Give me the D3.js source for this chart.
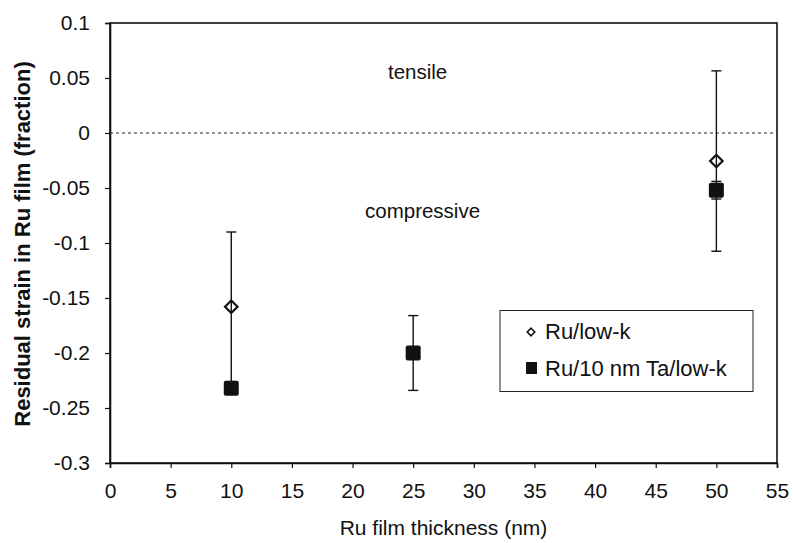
<!DOCTYPE html>
<html>
<head>
<meta charset="utf-8">
<script src="https://cdn.jsdelivr.net/npm/d3@7"></script>
<style>
  body { margin: 0; background: #fff; }
  text { font-family: Arial, "Liberation Sans", sans-serif; fill: #111; }
</style>
</head>
<body>
<svg id="chart" width="793" height="543"></svg>
<script>
// x ticks and y ticks
var xTicks = [0, 5, 10, 15, 20, 25, 30, 35, 40, 45, 50, 55];
var yTicks = [0.1, 0.05, 0, -0.05, -0.1, -0.15, -0.2, -0.25, -0.3];

// Ru/low-k
var lowkThickness = [10, 50];
var lowkStrain = [-0.158, -0.0255];
var lowkError = [0.068, 0.082];

// Ru/10 nm Ta/low-k
var taThickness = [10, 25, 50];
var taStrain = [-0.232, -0.2, -0.052];
var taError = [0.005, 0.034, 0.008];

var seriesNames = ["Ru/low-k", "Ru/10 nm Ta/low-k"];

var svg = d3.select("#chart");
var plotLeft = 110, plotRight = 777, plotTop = 23, plotBottom = 463;

var x = d3.scaleLinear().domain([0, 55]).range([plotLeft, plotRight]);
var y = d3.scaleLinear().domain([-0.3, 0.1]).range([plotBottom, plotTop]);

function fmt(d) {
  return String(Math.round(d * 100) / 100);
}

// frame
svg.append("rect")
  .attr("x", plotLeft).attr("y", plotTop)
  .attr("width", plotRight - plotLeft).attr("height", plotBottom - plotTop)
  .attr("fill", "none").attr("stroke", "#111").attr("stroke-width", 1.6);

// zero line
svg.append("line")
  .attr("x1", plotLeft).attr("x2", plotRight)
  .attr("y1", y(0)).attr("y2", y(0))
  .attr("stroke", "#222").attr("stroke-width", 1.1)
  .attr("stroke-dasharray", "3,3");

var xAxis = svg.append("g")
  .attr("transform", "translate(0," + plotBottom + ")")
  .call(d3.axisBottom(x).tickValues(xTicks).tickSize(5).tickPadding(15).tickFormat(fmt));
var yAxis = svg.append("g")
  .attr("transform", "translate(" + plotLeft + ",0)")
  .call(d3.axisLeft(y).tickValues(yTicks).tickSize(5).tickPadding(15).tickFormat(fmt));

[xAxis, yAxis].forEach(function (g) {
  g.select(".domain").attr("stroke", "#111").attr("stroke-width", 1.6);
  g.selectAll(".tick line").attr("stroke", "#111").attr("stroke-width", 1.2);
  g.selectAll(".tick text")
    .attr("fill", "#111")
    .style("font-family", "Arial, 'Liberation Sans', sans-serif")
    .style("font-size", "21px");
});

// axis titles
svg.append("text")
  .attr("x", (plotLeft + plotRight) / 2).attr("y", 535)
  .attr("text-anchor", "middle")
  .style("font-size", "21px")
  .text("Ru film thickness (nm)");

svg.append("text")
  .attr("transform", "translate(30," + (plotTop + plotBottom + 2) / 2 + ") rotate(-90)")
  .attr("text-anchor", "middle")
  .style("font-size", "22px")
  .style("font-weight", "bold")
  .text("Residual strain in Ru film (fraction)");

// annotations
svg.append("text").attr("x", 388).attr("y", 79)
  .style("font-size", "20.5px").text("tensile");
svg.append("text").attr("x", 365).attr("y", 218)
  .style("font-size", "20.5px").text("compressive");

// error bars
function errorBars(xs, vals, errs) {
  var g = svg.append("g").attr("stroke", "#111").attr("stroke-width", 1.4);
  xs.forEach(function (t, i) {
    var cx = x(t), y1 = y(vals[i] + errs[i]), y2 = y(vals[i] - errs[i]);
    g.append("line").attr("x1", cx).attr("x2", cx).attr("y1", y1).attr("y2", y2);
    g.append("line").attr("x1", cx - 5).attr("x2", cx + 5).attr("y1", y1).attr("y2", y1);
    g.append("line").attr("x1", cx - 5).attr("x2", cx + 5).attr("y1", y2).attr("y2", y2);
  });
}
errorBars(lowkThickness, lowkStrain, lowkError);
errorBars(taThickness, taStrain, taError);

var diamond = d3.symbol().type(d3.symbolDiamond2).size(100);

svg.append("g").selectAll("path")
  .data(lowkThickness)
  .enter().append("path")
  .attr("d", diamond)
  .attr("transform", function (d, i) { return "translate(" + x(d) + "," + y(lowkStrain[i]) + ")"; })
  .attr("fill", "none").attr("stroke", "#111").attr("stroke-width", 2.2);

svg.append("g").selectAll("rect")
  .data(taThickness)
  .enter().append("rect")
  .attr("x", function (d) { return x(d) - 7.5; })
  .attr("y", function (d, i) { return y(taStrain[i]) - 7.5; })
  .attr("width", 15).attr("height", 15)
  .attr("rx", 2)
  .attr("fill", "#111");

// legend
var legend = svg.append("g");
legend.append("rect")
  .attr("x", 500).attr("y", 310.5)
  .attr("width", 253).attr("height", 81)
  .attr("fill", "#fff").attr("stroke", "#222").attr("stroke-width", 1);

legend.append("path")
  .attr("d", d3.symbol().type(d3.symbolDiamond2).size(36))
  .attr("transform", "translate(531,332)")
  .attr("fill", "none").attr("stroke", "#111").attr("stroke-width", 1.6);
legend.append("rect")
  .attr("x", 526).attr("y", 362).attr("width", 11).attr("height", 12)
  .attr("fill", "#111");

legend.selectAll("text.item")
  .data(seriesNames)
  .enter().append("text")
  .attr("class", "item")
  .attr("x", 545)
  .attr("y", function (d, i) { return 339 + i * 37; })
  .style("font-size", "22px")
  .text(function (d) { return d; });
</script>
</body>
</html>
